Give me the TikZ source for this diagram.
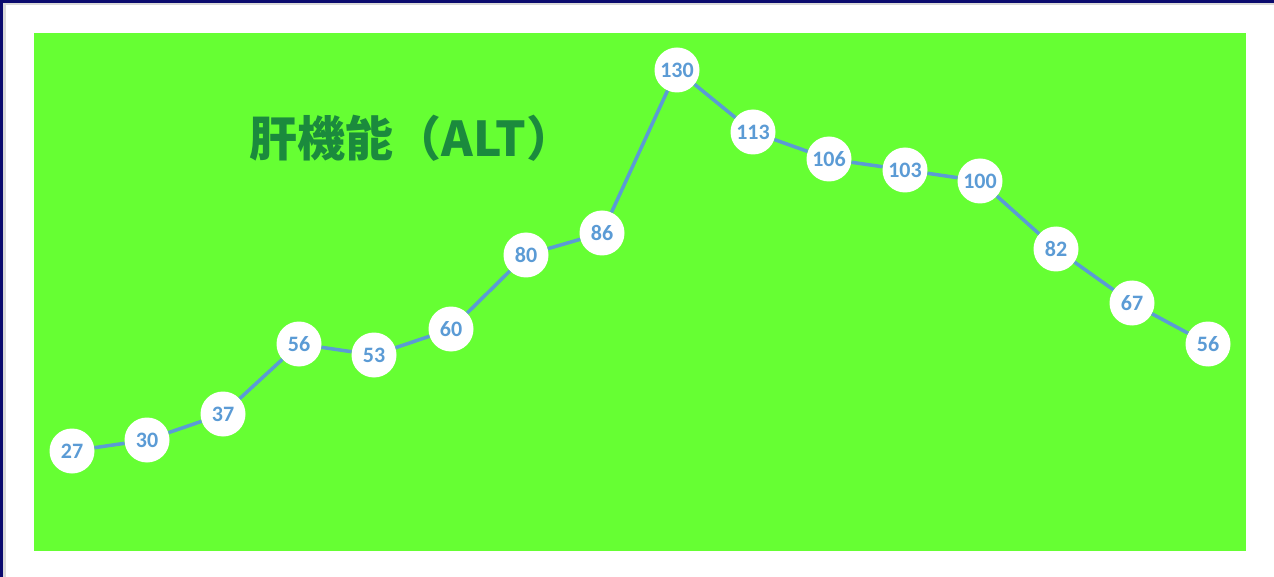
\documentclass[tikz,border=0pt]{standalone}
\usepackage{fontspec}
\usetikzlibrary{backgrounds}
\newfontfamily\valfont{Carlito}
\newfontfamily\jpfont{Noto Sans CJK JP}
\definecolor{chartgreen}{HTML}{66FF33}
\definecolor{titlegreen}{HTML}{1B8A3D}
\definecolor{altblue}{HTML}{5B9BD5}
\definecolor{frameblue}{HTML}{0A0A6E}

\begin{document}
\begin{tikzpicture}[x=1pt,y=-1pt,
    val/.style={circle, fill=white, minimum size=45pt, inner sep=0pt,
      text=altblue, font=\valfont\bfseries\fontsize{22}{22}\selectfont},
    trend/.style={draw=altblue, line width=3.5pt}]
    \useasboundingbox (0,0) rectangle (1274,577);
    \fill[white] (0,0) rectangle (1274,577);
    % window edge
    \fill[black!15] (0,0) rectangle (1274,5);
    \fill[black!15] (0,0) rectangle (6,577);
    \fill[frameblue] (0,0) rectangle (1274,3);
    \fill[frameblue] (0,0) rectangle (3,577);
    \fill[chartgreen] (34,33) rectangle (1246,551);

    \node[text=titlegreen, font=\jpfont\bfseries\fontsize{48}{48}\selectfont]
      (title) at (412,138) {肝機能（ALT）};

    \node[val] (d1) at (72,451) {27};
    \node[val] (d2) at (147,440) {30};
    \node[val] (d3) at (223,414) {37};
    \node[val] (d4) at (299,344) {56};
    \node[val] (d5) at (374,355) {53};
    \node[val] (d6) at (451,329) {60};
    \node[val] (d7) at (526,255) {80};
    \node[val] (d8) at (602,233) {86};
    \node[val] (d9) at (677,70) {130};
    \node[val] (d10) at (753,132) {113};
    \node[val] (d11) at (829,159) {106};
    \node[val] (d12) at (905,170) {103};
    \node[val] (d13) at (980,181) {100};
    \node[val] (d14) at (1056,249) {82};
    \node[val] (d15) at (1132,303) {67};
    \node[val] (d16) at (1208,344) {56};

    \draw[trend] (d1) -- (d2) -- (d3) -- (d4) -- (d5) -- (d6) -- (d7) -- (d8)
      -- (d9) -- (d10) -- (d11) -- (d12) -- (d13) -- (d14) -- (d15) -- (d16);
\end{tikzpicture}
\end{document}
